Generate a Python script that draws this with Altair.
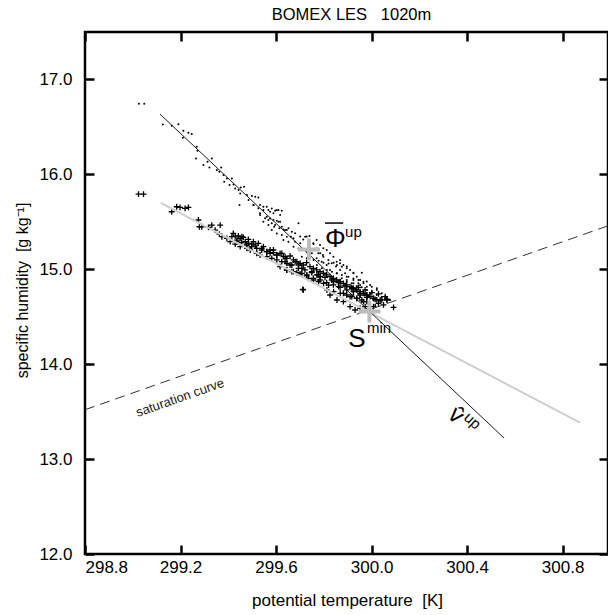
import altair as alt
import pandas as pd

# ---------------- data ----------------
dots_x = [299.026, 299.048, 299.126, 299.163, 299.191, 299.212, 299.233, 299.247, 299.210, 299.268,
          299.271, 299.265, 299.313, 299.331, 299.296, 299.321, 299.352, 299.363, 299.370, 299.380,
          299.394, 299.415, 299.383, 299.405, 299.422, 299.429, 299.443, 299.452, 299.466, 299.450,
          299.478, 299.499, 299.513, 299.526, 299.447, 299.485, 299.506, 299.533, 299.547, 299.568,
          299.582, 299.596, 299.610, 299.624, 299.533, 299.561, 299.575, 299.589, 299.603, 299.617,
          299.547, 299.568, 299.592, 299.614, 299.631, 299.645, 299.582, 299.603, 299.624, 299.645,
          299.662, 299.673, 299.631, 299.652, 299.680, 299.701, 299.722, 299.740, 299.757, 299.771,
          299.785, 299.796, 299.743, 299.673, 299.694, 299.715, 299.729, 299.750, 299.708, 299.729,
          299.757, 299.778, 299.799, 299.820, 299.841, 299.855, 299.876, 299.896, 299.924, 299.959,
          299.771, 299.792, 299.813, 299.834, 299.855, 299.876, 299.896, 299.924, 299.945, 299.966,
          299.813, 299.841, 299.869, 299.896, 299.924, 299.952, 299.980, 300.001, 300.022, 299.869,
          299.910, 299.938, 299.966, 299.994, 300.022, 300.043, 300.057, 299.924, 299.952, 299.980,
          300.008, 300.036, 300.064, 299.987, 300.015,
          299.505, 299.526, 299.547, 299.561, 299.575, 299.589, 299.603, 299.617, 299.533, 299.554,
          299.568, 299.582, 299.596, 299.610, 299.624, 299.638, 299.652, 299.666, 299.680, 299.694,
          299.701, 299.714, 299.728, 299.742, 299.756, 299.770, 299.784, 299.798, 299.812, 299.826,
          299.840, 299.854, 299.868, 299.882, 299.896, 299.910, 299.924, 299.938, 299.952, 299.966,
          299.980, 299.994, 299.763, 299.777, 299.798, 299.819, 299.833, 299.851, 299.868, 299.889,
          299.903, 299.924, 299.945, 299.959, 299.980, 300.001, 300.022, 300.043, 300.057, 300.078,
          299.826, 299.854, 299.875, 299.896, 299.917, 299.938, 299.868, 299.770, 299.791, 299.812]
dots_y = [16.745, 16.745, 16.526, 16.512, 16.529, 16.459, 16.438, 16.424, 16.385, 16.291,
          16.248, 16.168, 16.133, 16.168, 16.098, 16.073, 16.045, 16.027, 16.073, 15.992,
          15.957, 15.957, 15.922, 15.887, 15.894, 15.852, 15.834, 15.862, 15.869, 15.799,
          15.782, 15.771, 15.764, 15.757, 15.677, 15.729, 15.677, 15.677, 15.659, 15.624,
          15.641, 15.617, 15.624, 15.617, 15.589, 15.554, 15.536, 15.519, 15.512, 15.501,
          15.501, 15.466, 15.448, 15.431, 15.420, 15.413, 15.413, 15.378, 15.361, 15.343,
          15.343, 15.326, 15.308, 15.291, 15.291, 15.273, 15.343, 15.350, 15.266, 15.220,
          15.168, 15.150, 15.203, 15.238, 15.220, 15.203, 15.185, 15.168, 15.133, 15.115,
          15.098, 15.091, 15.069, 15.062, 15.069, 15.045, 15.027, 15.010, 14.964, 14.964,
          15.045, 15.010, 14.992, 14.975, 14.957, 14.940, 14.922, 14.904, 14.887, 14.869,
          14.922, 14.904, 14.887, 14.869, 14.852, 14.834, 14.817, 14.817, 14.782, 14.817,
          14.799, 14.782, 14.764, 14.747, 14.729, 14.711, 14.694, 14.729, 14.711, 14.694,
          14.676, 14.669, 14.676, 14.641, 14.624,
          15.677, 15.642, 15.624, 15.659, 15.607, 15.589, 15.624, 15.572, 15.572, 15.537,
          15.519, 15.484, 15.466, 15.501, 15.449, 15.414, 15.431, 15.396, 15.379, 15.484,
          15.344, 15.315, 15.344, 15.291, 15.273, 15.308, 15.256, 15.221, 15.203, 15.168,
          15.133, 15.080, 15.098, 15.045, 15.028, 14.993, 14.958, 14.922, 14.887, 14.852,
          14.870, 14.835, 15.203, 15.168, 15.133, 15.098, 15.063, 15.028, 14.993, 14.958,
          14.922, 14.887, 14.852, 14.810, 14.782, 14.765, 14.800, 14.747, 14.712, 14.677,
          14.993, 14.958, 14.905, 14.887, 14.852, 14.824, 15.063, 15.115, 15.080, 15.045]

plus_x = [299.024, 299.045, 299.163, 299.184, 299.198, 299.219, 299.233, 299.275, 299.279, 299.289,
          299.317, 299.331, 299.345, 299.366, 299.363, 299.373, 299.394, 299.415, 299.429, 299.436,
          299.450, 299.457, 299.471, 299.485, 299.499, 299.513, 299.408, 299.429, 299.450, 299.478,
          299.492, 299.519, 299.533, 299.540, 299.561, 299.575, 299.589, 299.603, 299.624, 299.638,
          299.561, 299.582, 299.603, 299.624, 299.645, 299.659, 299.680, 299.694, 299.708, 299.645,
          299.666, 299.687, 299.708, 299.729, 299.750, 299.771, 299.785, 299.712, 299.736, 299.757,
          299.778, 299.799, 299.820, 299.841, 299.862, 299.813, 299.841, 299.869, 299.896, 299.917,
          299.938, 299.959, 299.980, 299.924, 299.952, 299.980, 300.008, 300.036, 300.064, 300.092,
          300.029, 300.050, 299.910, 299.931, 299.952, 299.973, 299.855, 299.882, 300.008, 300.015,
          300.057,
          299.421, 299.442, 299.463, 299.484, 299.505, 299.526, 299.435, 299.456, 299.477, 299.498,
          299.519, 299.540, 299.561, 299.547, 299.575, 299.589, 299.603, 299.617, 299.631, 299.645,
          299.659, 299.673, 299.687, 299.701, 299.714, 299.728, 299.742, 299.756, 299.770, 299.784,
          299.798, 299.812, 299.826, 299.840, 299.854, 299.868, 299.882, 299.896, 299.910, 299.924,
          299.938, 299.952, 299.966, 299.980, 299.994, 300.008, 300.022, 300.043, 300.064, 299.617,
          299.645, 299.673, 299.701, 299.728, 299.756, 299.784, 299.812, 299.840, 299.868, 299.896,
          299.924, 299.952, 299.980, 299.638, 299.666, 299.694, 299.721, 299.749, 299.777, 299.805,
          299.833, 299.861, 299.889, 299.917, 299.945, 299.973, 300.001, 300.029, 299.714, 299.826,
          299.882, 299.910, 299.938, 299.966]
plus_y = [15.792, 15.792, 15.606, 15.659, 15.652, 15.641, 15.652, 15.519, 15.448, 15.448,
          15.441, 15.466, 15.413, 15.466, 15.371, 15.343, 15.326, 15.343, 15.350, 15.308,
          15.326, 15.343, 15.291, 15.273, 15.266, 15.255, 15.291, 15.266, 15.238, 15.220,
          15.203, 15.168, 15.150, 15.220, 15.185, 15.203, 15.175, 15.150, 15.168, 15.133,
          15.133, 15.115, 15.098, 15.080, 15.062, 15.045, 15.080, 15.045, 15.010, 14.992,
          14.975, 14.964, 14.957, 14.940, 14.975, 14.940, 14.922, 14.789, 14.904, 14.887,
          14.869, 14.852, 14.834, 14.869, 14.817, 14.782, 14.764, 14.747, 14.729, 14.711,
          14.694, 14.676, 14.659, 14.782, 14.747, 14.729, 14.694, 14.676, 14.676, 14.599,
          14.641, 14.624, 14.606, 14.571, 14.589, 14.606, 14.676, 14.659, 14.606, 14.683,
          14.711,
          15.379, 15.351, 15.336, 15.315, 15.291, 15.273, 15.291, 15.280, 15.256, 15.238,
          15.221, 15.203, 15.186, 15.238, 15.168, 15.203, 15.151, 15.168, 15.133, 15.115,
          15.140, 15.098, 15.080, 15.063, 15.045, 15.070, 15.028, 15.010, 14.993, 14.975,
          14.958, 14.940, 14.922, 14.905, 14.887, 14.870, 14.852, 14.835, 14.817, 14.800,
          14.782, 14.765, 14.747, 14.729, 14.712, 14.694, 14.677, 14.677, 14.684, 15.028,
          14.993, 14.975, 14.951, 14.930, 14.905, 14.887, 14.859, 14.835, 14.810, 14.782,
          14.765, 14.729, 14.705, 15.080, 15.045, 15.010, 14.993, 14.965, 14.940, 14.915,
          14.887, 14.859, 14.824, 14.807, 14.810, 14.782, 14.754, 14.740, 14.782, 14.729,
          14.747, 14.712, 14.694, 14.659]

vup_x = [299.114, 300.555]          # black regression line
vup_y = [16.635, 13.221]
grey_x = [299.117, 300.873]         # light grey line
grey_y = [15.700, 13.385]
sat_x = [298.8, 300.99]             # saturation curve (dashed)
sat_y = [13.52, 15.458]

cross_x = [299.738, 299.991]        # Phi-bar-up and S-min markers
cross_y = [15.208, 14.554]

x_ticks = [298.8, 299.2, 299.6, 300.0, 300.4, 300.8]
y_ticks = [12.0, 13.0, 14.0, 15.0, 16.0, 17.0]
x_domain = [298.8, 300.99]
y_domain = [12.0, 17.5]

FONT = "Liberation Sans"

xs = alt.Scale(domain=x_domain, nice=False, zero=False)
ys = alt.Scale(domain=y_domain, nice=False, zero=False)


def X(field="x", axis=None):
    return alt.X(f"{field}:Q", scale=xs, axis=axis)


def Y(field="y", axis=None):
    return alt.Y(f"{field}:Q", scale=ys, axis=axis)


bottom_axis = alt.Axis(values=x_ticks, format=".1f", orient="bottom", offset=-9,
                       tickSize=9, tickWidth=2.5, tickColor="black", domain=False, grid=False,
                       labelFont=FONT, labelFontSize=17, labelColor="black", labelPadding=5,
                       title="potential temperature\u00a0\u00a0[K]", titleFont=FONT,
                       titleFontSize=17, titleFontWeight="normal", titleColor="black",
                       titleX=262, titleY=60, titleBaseline="alphabetic", titleAlign="center")
left_axis = alt.Axis(values=y_ticks, format=".1f", orient="left", offset=-9,
                     tickSize=9, tickWidth=2.5, tickColor="black", domain=False, grid=False,
                     labelFont=FONT, labelFontSize=17, labelColor="black", labelPadding=13,
                     title="specific humidity\u00a0\u00a0[g kg\u207b\u00b9]", titleFont=FONT,
                     titleFontSize=16, titleFontWeight="normal", titleColor="black",
                     titleX=-64, titleY=258, titleAngle=270, titleBaseline="bottom",
                     titleAlign="center")
top_axis = alt.Axis(values=x_ticks, orient="top", offset=-9, tickSize=9, tickWidth=2.5,
                    tickColor="black", domain=False, grid=False, labels=False, title=None)
right_axis = alt.Axis(values=y_ticks, orient="right", offset=-9, tickSize=9, tickWidth=2.5,
                      tickColor="black", domain=False, grid=False, labels=False, title=None)

dots_df = pd.DataFrame({"x": dots_x, "y": dots_y})
plus_df = pd.DataFrame({"x": plus_x, "y": plus_y})

dots = alt.Chart(dots_df).mark_point(shape="circle", filled=True, size=4, color="black",
                                     opacity=1).encode(
    x=X(axis=bottom_axis), y=Y(axis=left_axis))

PLUS = "M-1,0L1,0M0,-1L0,1"
plus = alt.Chart(plus_df).mark_point(shape=PLUS, filled=False, size=34, color="black",
                                     strokeWidth=1.3, opacity=1).encode(
    x=X(axis=top_axis), y=Y(axis=right_axis))

sat = alt.Chart(pd.DataFrame({"x": sat_x, "y": sat_y})).mark_line(
    color="#333333", strokeWidth=1, strokeDash=[10, 6]).encode(x=X(), y=Y())
grey = alt.Chart(pd.DataFrame({"x": grey_x, "y": grey_y})).mark_line(
    color="#cfcfcf", strokeWidth=2).encode(x=X(), y=Y())
vup = alt.Chart(pd.DataFrame({"x": vup_x, "y": vup_y})).mark_line(
    color="#1a1a1a", strokeWidth=1).encode(x=X(), y=Y())

crosses = alt.Chart(pd.DataFrame({"x": cross_x, "y": cross_y})).mark_point(
    shape=PLUS, filled=False, size=484, color="#bdbdbd", strokeWidth=4, opacity=1).encode(
    x=X(), y=Y())

# annotations (anchor positions in data units)
big_lab = pd.DataFrame({"x": [299.805, 299.902], "y": [15.235, 14.182], "t": ["\u03a6", "S"]})
small_lab = pd.DataFrame({"x": [299.889, 299.981], "y": [15.34, 14.329], "t": ["up", "min"]})

big = alt.Chart(big_lab).mark_text(font=FONT, fontSize=26, align="left", baseline="alphabetic",
                                   color="black").encode(x=X(), y=Y(), text="t:N")
small = alt.Chart(small_lab).mark_text(font=FONT, fontSize=15, align="left",
                                       baseline="alphabetic", color="black").encode(
    x=X(), y=Y(), text="t:N")

bar_df = pd.DataFrame({"x": [299.805], "x2": [299.881], "y": [15.487]})
overbar = alt.Chart(bar_df).mark_rule(color="black", strokeWidth=1.5).encode(
    x=X(), x2="x2:Q", y=Y())

v_df = pd.DataFrame({"x": [300.315], "y": [13.450], "t": ["v\u0302"]})
vhat = alt.Chart(v_df).mark_text(font=FONT, fontSize=24, align="left", baseline="alphabetic",
                                 angle=43, color="black").encode(x=X(), y=Y(), text="t:N")
vup_df = pd.DataFrame({"x": [300.383], "y": [13.424], "t": ["up"]})
vsup = alt.Chart(vup_df).mark_text(font=FONT, fontSize=15, align="left", baseline="alphabetic",
                                   angle=43, color="black").encode(x=X(), y=Y(), text="t:N")

sat_df = pd.DataFrame({"x": [299.198], "y": [13.645], "t": ["saturation curve"]})
sat_lab = alt.Chart(sat_df).mark_text(font=FONT, fontSize=13, align="center", baseline="middle",
                                      angle=340.6, color="#222222").encode(
    x=X(), y=Y(), text="t:N")

chart = alt.layer(
    dots, plus, sat, grey, vup, crosses, big, small, overbar, vhat, vsup, sat_lab
).resolve_axis(x="independent", y="independent").properties(
    width=523, height=522,
    background="white",
    title=alt.TitleParams("BOMEX LES\u00a0\u00a0\u00a01020m", font=FONT, fontSize=16.5,
                          fontWeight="normal", color="black", anchor="middle",
                          baseline="alphabetic", offset=13, dx=5, dy=19),
    padding={"left": 85, "top": 32, "right": 0, "bottom": 61},
    autosize=alt.AutoSizeParams(type="none"),
).configure_view(stroke="black", strokeWidth=2.5)

chart.save("out.html", embed_options={"renderer": "svg", "actions": False})
